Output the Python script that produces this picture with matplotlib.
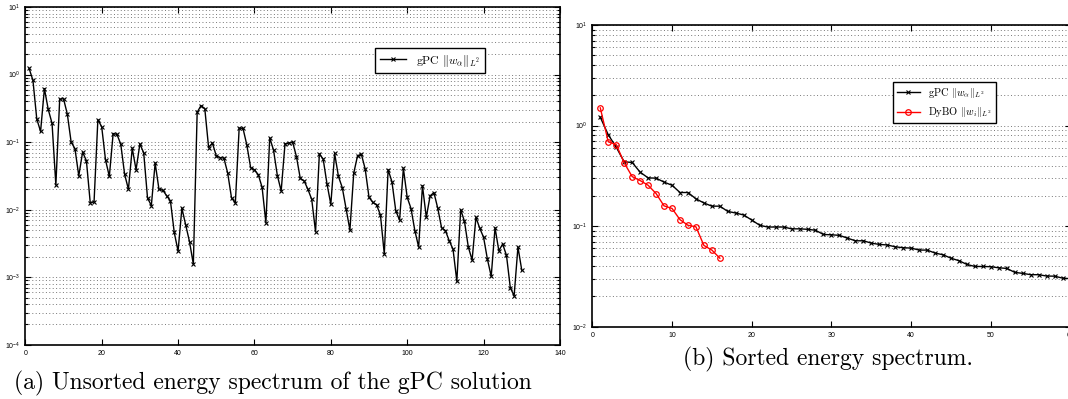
import numpy as np
import matplotlib
matplotlib.use("Agg")
import matplotlib.pyplot as plt

plt.rcParams['font.family'] = ['Liberation Sans', 'DejaVu Sans']
plt.rcParams['mathtext.fontset'] = 'custom'
plt.rcParams['mathtext.rm'] = 'Liberation Sans'
plt.rcParams['mathtext.it'] = 'Liberation Sans:italic'

# (a) unsorted gPC energy spectrum, modes 1..130
gpc_unsorted = [
    1.23, 0.82, 0.22, 0.144, 0.62, 0.305, 0.19, 0.0232, 0.43, 0.44,
    0.26, 0.1, 0.08, 0.0316, 0.071, 0.053, 0.0127, 0.013, 0.215, 0.169,
    0.0547, 0.031, 0.134, 0.13, 0.093, 0.0335, 0.02, 0.081, 0.039, 0.094,
    0.0695, 0.0149, 0.0115, 0.0488, 0.02, 0.0194, 0.0161, 0.0135, 0.0046, 0.00243,
    0.0105, 0.0059, 0.00335, 0.00156, 0.276, 0.347, 0.313, 0.083, 0.0966, 0.0627,
    0.059, 0.058, 0.0347, 0.0149, 0.0126, 0.161, 0.16, 0.091, 0.042, 0.039,
    0.033, 0.0215, 0.0064, 0.116, 0.076, 0.032, 0.0189, 0.094, 0.097, 0.1,
    0.061, 0.029, 0.0267, 0.02, 0.0142, 0.0047, 0.067, 0.056, 0.024, 0.012,
    0.068, 0.031, 0.0212, 0.0102, 0.005, 0.0346, 0.063, 0.066, 0.040, 0.0152,
    0.0128, 0.0117, 0.0083, 0.0022, 0.039, 0.026, 0.0097, 0.0070, 0.041, 0.0152,
    0.0104, 0.0049, 0.0028, 0.0225, 0.0077, 0.016, 0.0179, 0.0105, 0.0054, 0.0049,
    0.00347, 0.0026, 0.00087, 0.01, 0.0067, 0.0028, 0.0018, 0.0077, 0.0053, 0.0039,
    0.00185, 0.00103, 0.0054, 0.00246, 0.0031, 0.0021, 0.0007, 0.00053, 0.0028, 0.00127,
]

# (b) sorted spectra
gpc_sorted = [
    1.21, 0.81, 0.61, 0.436, 0.43, 0.344, 0.302, 0.30, 0.274, 0.255,
    0.216, 0.216, 0.187, 0.17, 0.158, 0.158, 0.14, 0.135, 0.129, 0.115,
    0.102, 0.098, 0.098, 0.098, 0.094, 0.094, 0.093, 0.091, 0.0826, 0.082,
    0.081, 0.076, 0.0715, 0.0715, 0.0678, 0.0658, 0.065, 0.0623, 0.061, 0.0605,
    0.0578, 0.0578, 0.054, 0.0519, 0.048, 0.0453, 0.0416, 0.0397, 0.0397, 0.0395,
    0.0385, 0.038, 0.0347, 0.0339, 0.0329, 0.0329, 0.0319, 0.0318, 0.0304, 0.030,
]
dybo_sorted = [
    1.50, 0.69, 0.647, 0.426, 0.311, 0.284, 0.255, 0.211, 0.159, 0.15,
    0.116, 0.102, 0.0985, 0.0643, 0.0578, 0.048,
]

x_a = np.arange(1, len(gpc_unsorted) + 1)
x_gpc = np.arange(1, len(gpc_sorted) + 1)
x_dybo = np.arange(1, len(dybo_sorted) + 1)


def style_axes(ax):
    ax.set_yscale('log')
    ax.grid(True, which='both', axis='y', linestyle=(0, (1, 2.5)), color='#777777', linewidth=0.7)
    ax.grid(False, axis='x')
    ax.tick_params(which='both', direction='in', top=True, right=True, labelsize=5, width=0.8)
    ax.tick_params(which='major', length=4)
    ax.tick_params(which='minor', length=2)
    for s in ax.spines.values():
        s.set_linewidth(1.2)
        s.set_color('black')


fig = plt.figure(figsize=(10.68, 3.99), dpi=100)

ax1 = fig.add_axes([0.0237, 0.136, 0.5006, 0.8464])
ax1.plot(x_a, gpc_unsorted, color='black', marker='x', markersize=3, linewidth=1,
         markeredgewidth=0.8, label=r'gPC $\|w_\alpha\|_{L^2}$')
ax1.set_xlim(0, 140)
ax1.set_ylim(1e-4, 1e1)
ax1.set_xticks(np.arange(0, 141, 20))
style_axes(ax1)
leg1 = ax1.legend(loc='center', bbox_to_anchor=(0.757, 0.8416), fancybox=False,
                  edgecolor='black', framealpha=1, handlelength=2.2,
                  prop={'family': 'cmr10', 'size': 8.5}, borderpad=0.4)
leg1.get_frame().set_linewidth(1)
for t in leg1.get_texts():
    t.set_math_fontfamily('cm')

ax2 = fig.add_axes([0.5546, 0.1812, 0.4478, 0.7561])
ax2.plot(x_gpc, gpc_sorted, color='black', marker='x', markersize=2.5, linewidth=1,
         markeredgewidth=0.8, label=r'gPC $\|w_\alpha\|_{L^2}$')
ax2.plot(x_dybo, dybo_sorted, color='red', marker='o', markersize=4, linewidth=1,
         markerfacecolor='none', markeredgewidth=0.9, label=r'DyBO $\|w_i\|_{L^2}$')
ax2.set_xlim(0, 60)
ax2.set_ylim(1e-2, 1e1)
ax2.set_xticks(np.arange(0, 61, 10))
style_axes(ax2)
leg2 = ax2.legend(loc='center', bbox_to_anchor=(0.7365, 0.743), fancybox=False,
                  edgecolor='black', framealpha=1, handlelength=2.2,
                  prop={'family': 'cmr10', 'size': 7.5}, borderpad=0.4)
leg2.get_frame().set_linewidth(1)
for t in leg2.get_texts():
    t.set_math_fontfamily('cm')

fig.text(0.2556, 0.04, '(a) Unsorted energy spectrum of the gPC solution',
         family='cmr10', fontsize=17, ha='center', va='center')
fig.text(0.775, 0.10, '(b) Sorted energy spectrum.',
         family='cmr10', fontsize=17, ha='center', va='center')

fig.savefig('out.png', dpi=100)
